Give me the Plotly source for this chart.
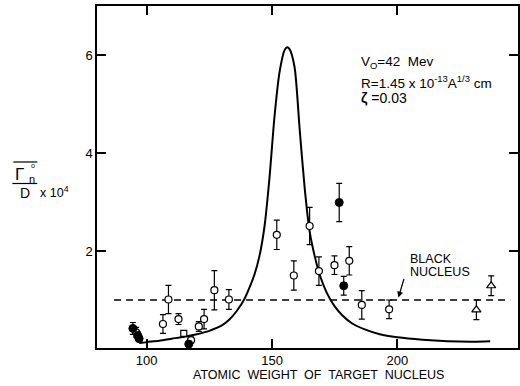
import plotly.graph_objects as go

# ---- data ----
curve_A = [97, 100, 105, 110, 115, 120, 125, 130, 133, 136, 139, 141, 143, 145, 147, 149, 151, 153, 155, 156, 157, 159, 161, 163, 165, 167, 169, 172, 175, 178, 182, 187, 193, 200, 210, 220, 230, 237]
curve_y = [0.12, 0.14, 0.17, 0.21, 0.25, 0.30, 0.37, 0.48, 0.60, 0.78, 1.02, 1.25, 1.52, 1.9, 2.5, 3.5, 4.75, 5.65, 6.1, 6.16, 6.12, 5.75, 4.5, 3.3, 2.4, 1.9, 1.52, 1.13, 0.87, 0.69, 0.52, 0.40, 0.30, 0.24, 0.19, 0.16, 0.15, 0.16]

open_A = [95.8, 106.5, 108.7, 112.7, 117.7, 120.8, 122.9, 127.0, 132.8, 151.9, 158.7, 165.0, 168.7, 174.9, 180.8, 185.8, 196.7]
open_y = [0.34, 0.51, 1.01, 0.61, 0.18, 0.46, 0.61, 1.20, 1.01, 2.33, 1.50, 2.51, 1.59, 1.71, 1.80, 0.90, 0.81]
open_err = [0.10, 0.19, 0.29, 0.11, 0.06, 0.10, 0.20, 0.40, 0.20, 0.30, 0.30, 0.38, 0.29, 0.19, 0.29, 0.29, 0.19]

filled_A = [94.5, 96.5, 97.0, 116.8, 176.8, 178.6]
filled_y = [0.42, 0.27, 0.21, 0.10, 2.99, 1.29]
filled_err = [0.12, 0.08, 0.0, 0.0, 0.39, 0.19]

square_A = [114.8]
square_y = [0.32]

tri_A = [231.5, 237.4]
tri_y = [0.80, 1.29]
tri_err = [0.20, 0.20]

black_nucleus = 1.0
dash_x = [87, 245]

x_ticks = [100, 150, 200]
y_ticks = [2, 4, 6]

W, H = 520, 386
L, R, T, B = 97, 0, 6, 38
PW, PH = W - L - R, H - T - B


def px(x):
    return (x - L) / PW


def py(y):
    return (H - B - y) / PH


FONT = "Liberation Sans, Arial, sans-serif"
fig = go.Figure()

fig.add_trace(go.Scatter(x=dash_x, y=[black_nucleus] * 2, mode="lines",
                         line=dict(color="black", width=1.3, dash="7px,5px"),
                         showlegend=False, hoverinfo="skip"))
fig.add_trace(go.Scatter(x=curve_A, y=curve_y, mode="lines", line_shape="spline",
                         line=dict(color="black", width=2, smoothing=0.7), showlegend=False))

eb = dict(type="data", thickness=1.2, width=3, color="black")
fig.add_trace(go.Scatter(x=open_A, y=open_y, mode="markers",
                         error_y=dict(array=open_err, **eb),
                         marker=dict(symbol="circle", size=7, color="white",
                                     line=dict(color="black", width=1.2)),
                         showlegend=False))
fig.add_trace(go.Scatter(x=filled_A, y=filled_y, mode="markers",
                         error_y=dict(array=filled_err, **eb),
                         marker=dict(symbol="circle", size=8, color="black",
                                     line=dict(color="black", width=1)),
                         showlegend=False))
fig.add_trace(go.Scatter(x=square_A, y=square_y, mode="markers",
                         marker=dict(symbol="square", size=6, color="white",
                                     line=dict(color="black", width=1.2)),
                         showlegend=False))
fig.add_trace(go.Scatter(x=tri_A, y=tri_y, mode="markers",
                         error_y=dict(array=tri_err, **eb),
                         marker=dict(symbol="triangle-up", size=8, color="white",
                                     line=dict(color="black", width=1.2)),
                         showlegend=False))

axcommon = dict(showgrid=False, zeroline=False, showline=True, linecolor="black",
                linewidth=1.5, ticks="inside", tickcolor="black", tickwidth=1.5,
                mirror="ticks",
                tickfont=dict(family=FONT, size=13, color="black"))
fig.update_xaxes(range=[80.2, 248.1], tickvals=x_ticks, ticklen=9, **axcommon)
fig.update_yaxes(range=[0.02, 7.0], tickvals=y_ticks, ticklen=9, **axcommon)

ann = []
# parameter block
ann.append(dict(x=px(360), y=py(62), text="V<sub>O</sub>=42  Mev", size=13.5))
ann.append(dict(x=px(360), y=py(82), text="R=1.45 x 10<sup>-13</sup>A<sup>1/3</sup> cm", size=13.5))
ann.append(dict(x=px(360), y=py(98), text="<b>ζ</b> =0.03", size=14))
# black nucleus label
ann.append(dict(x=px(409), y=py(259), text="BLACK", size=12.5))
ann.append(dict(x=px(409), y=py(272), text="NUCLEUS", size=12.5))
# x title
ann.append(dict(x=px(320), y=py(375), text="ATOMIC  WEIGHT  OF  TARGET  NUCLEUS", xanchor="center", size=12.5))
# y title pieces
ann.append(dict(x=px(13), y=py(174), text="Γ", size=17))
ann.append(dict(x=px(27), y=py(179), text="n", size=11))
ann.append(dict(x=px(28.5), y=py(165.5), text="o", size=7))
ann.append(dict(x=px(18), y=py(193), text="D", size=14))
ann.append(dict(x=px(38), y=py(192), text="x 10<sup>4</sup>", size=12.5))

annotations = []
for a in ann:
    annotations.append(dict(xref="paper", yref="paper", x=a["x"], y=a["y"], text=a["text"],
                            showarrow=False, xanchor=a.get("xanchor", "left"), yanchor="middle",
                            font=dict(family=FONT, size=a.get("size", 12), color="black")))
# arrow for black nucleus
annotations.append(dict(x=200.4, y=1.05, xref="x", yref="y", ax=6, ay=-20,
                        axref="pixel", ayref="pixel", text="", showarrow=True,
                        arrowhead=2, arrowsize=1, arrowwidth=1.2, arrowcolor="black"))

shapes = [
    dict(type="line", xref="paper", yref="paper", x0=px(13), x1=px(37), y0=py(162), y1=py(162),
         line=dict(color="black", width=1.2)),
    dict(type="line", xref="paper", yref="paper", x0=px(12), x1=px(37), y0=py(183.5), y1=py(183.5),
         line=dict(color="black", width=1.2)),
]

fig.update_layout(width=W, height=H, margin=dict(l=L, r=R, t=T, b=B),
                  paper_bgcolor="white", plot_bgcolor="white",
                  annotations=annotations, shapes=shapes,
                  font=dict(family=FONT, color="black"))

fig.write_html("out.html")
